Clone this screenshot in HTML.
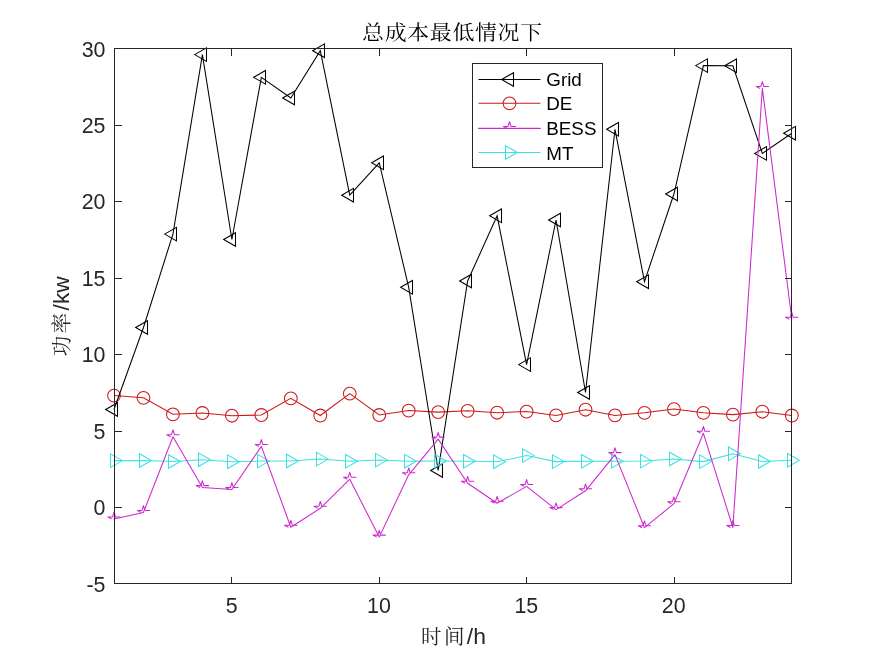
<!DOCTYPE html>
<html><head><meta charset="utf-8"><title>总成本最低情况下</title>
<style>
html,body{margin:0;padding:0;background:#fff;}
body{width:875px;height:656px;overflow:hidden;}
svg{display:block;will-change:transform;}
.tk{font-family:"Liberation Sans",Arial,sans-serif;font-size:21.4px;fill:#262626;}
.lg{font-family:"Liberation Sans",Arial,sans-serif;font-size:18.8px;fill:#000;}
.cj{font-family:"Liberation Sans","Noto Serif CJK SC",serif;font-size:22.9px;}
.c2{font-size:20.5px;letter-spacing:2.4px;}
</style></head><body>
<svg width="875" height="656" viewBox="0 0 875 656">
<rect width="875" height="656" fill="#fff"/>

<g fill="none" stroke="rgb(205,25,25)" stroke-width="1.05" stroke-linejoin="miter" stroke-linecap="butt">
<polyline points="114,395.6 143.47,397.8 172.94,414.3 202.41,413 231.88,415.7 261.35,415 290.82,398.4 320.29,415.5 349.76,393.6 379.23,415 408.7,410.6 438.17,412.1 467.64,410.8 497.11,412.7 526.58,411.6 556.05,415.4 585.52,409.7 614.99,415.4 644.46,412.8 673.93,409.1 703.4,412.8 732.87,414.6 762.34,411.7 791.81,415.5"/>
<circle cx="114" cy="395.6" r="6.4"/>
<circle cx="143.47" cy="397.8" r="6.4"/>
<circle cx="172.94" cy="414.3" r="6.4"/>
<circle cx="202.41" cy="413" r="6.4"/>
<circle cx="231.88" cy="415.7" r="6.4"/>
<circle cx="261.35" cy="415" r="6.4"/>
<circle cx="290.82" cy="398.4" r="6.4"/>
<circle cx="320.29" cy="415.5" r="6.4"/>
<circle cx="349.76" cy="393.6" r="6.4"/>
<circle cx="379.23" cy="415" r="6.4"/>
<circle cx="408.7" cy="410.6" r="6.4"/>
<circle cx="438.17" cy="412.1" r="6.4"/>
<circle cx="467.64" cy="410.8" r="6.4"/>
<circle cx="497.11" cy="412.7" r="6.4"/>
<circle cx="526.58" cy="411.6" r="6.4"/>
<circle cx="556.05" cy="415.4" r="6.4"/>
<circle cx="585.52" cy="409.7" r="6.4"/>
<circle cx="614.99" cy="415.4" r="6.4"/>
<circle cx="644.46" cy="412.8" r="6.4"/>
<circle cx="673.93" cy="409.1" r="6.4"/>
<circle cx="703.4" cy="412.8" r="6.4"/>
<circle cx="732.87" cy="414.6" r="6.4"/>
<circle cx="762.34" cy="411.7" r="6.4"/>
<circle cx="791.81" cy="415.5" r="6.4"/>
</g>
<g fill="none" stroke="#000" stroke-width="1.05" stroke-linejoin="miter" stroke-linecap="butt">
<polyline points="114,409.5 143.47,327.5 172.94,234.1 202.41,54.6 231.88,239.5 261.35,77.3 290.82,98 320.29,50.7 349.76,195.2 379.23,162.8 408.7,287.3 438.17,470.5 467.64,281 497.11,215.8 526.58,364.6 556.05,220 585.52,392.5 614.99,129.3 644.46,281.7 673.93,194 703.4,65.6 732.87,65.8 762.34,153.4 791.81,133.2"/>
<path d="M105.65 409.5L117.5 402.7L117.5 416.3ZM135.65 327.5L147.5 320.7L147.5 334.3ZM164.65 234.1L176.5 227.3L176.5 240.9ZM194.65 54.6L206.5 47.8L206.5 61.4ZM223.65 239.5L235.5 232.7L235.5 246.3ZM253.65 77.3L265.5 70.5L265.5 84.1ZM282.65 98L294.5 91.2L294.5 104.8ZM312.65 50.7L324.5 43.9L324.5 57.5ZM341.65 195.2L353.5 188.4L353.5 202ZM371.65 162.8L383.5 156L383.5 169.6ZM400.65 287.3L412.5 280.5L412.5 294.1ZM430.65 470.5L442.5 463.7L442.5 477.3ZM459.65 281L471.5 274.2L471.5 287.8ZM489.65 215.8L501.5 209L501.5 222.6ZM518.65 364.6L530.5 357.8L530.5 371.4ZM548.65 220L560.5 213.2L560.5 226.8ZM577.65 392.5L589.5 385.7L589.5 399.3ZM606.65 129.3L618.5 122.5L618.5 136.1ZM636.65 281.7L648.5 274.9L648.5 288.5ZM665.65 194L677.5 187.2L677.5 200.8ZM695.65 65.6L707.5 58.8L707.5 72.4ZM724.65 65.8L736.5 59L736.5 72.6ZM754.65 153.4L766.5 146.6L766.5 160.2ZM783.65 133.2L795.5 126.4L795.5 140Z"/>
</g>
<g fill="none" stroke="rgb(60,225,225)" stroke-width="1.05" stroke-linejoin="miter" stroke-linecap="butt">
<polyline points="114,460.6 143.47,460.5 172.94,461.5 202.41,459.7 231.88,461.7 261.35,461.1 290.82,461 320.29,459.1 349.76,461.3 379.23,460.1 408.7,461.2 438.17,461 467.64,461.3 497.11,461.7 526.58,455.6 556.05,461.6 585.52,461.3 614.99,461.3 644.46,461.1 673.93,459 703.4,461.6 732.87,453.8 762.34,461.5 791.81,460.3"/>
<path d="M122.35 460.6L110.5 453.8L110.5 467.4ZM151.35 460.5L139.5 453.7L139.5 467.3ZM180.35 461.5L168.5 454.7L168.5 468.3ZM210.35 459.7L198.5 452.9L198.5 466.5ZM239.35 461.7L227.5 454.9L227.5 468.5ZM269.35 461.1L257.5 454.3L257.5 467.9ZM298.35 461L286.5 454.2L286.5 467.8ZM328.35 459.1L316.5 452.3L316.5 465.9ZM357.35 461.3L345.5 454.5L345.5 468.1ZM387.35 460.1L375.5 453.3L375.5 466.9ZM416.35 461.2L404.5 454.4L404.5 468ZM446.35 461L434.5 454.2L434.5 467.8ZM475.35 461.3L463.5 454.5L463.5 468.1ZM505.35 461.7L493.5 454.9L493.5 468.5ZM534.35 455.6L522.5 448.8L522.5 462.4ZM564.35 461.6L552.5 454.8L552.5 468.4ZM593.35 461.3L581.5 454.5L581.5 468.1ZM623.35 461.3L611.5 454.5L611.5 468.1ZM652.35 461.1L640.5 454.3L640.5 467.9ZM681.35 459L669.5 452.2L669.5 465.8ZM711.35 461.6L699.5 454.8L699.5 468.4ZM740.35 453.8L728.5 447L728.5 460.6ZM770.35 461.5L758.5 454.7L758.5 468.3ZM799.35 460.3L787.5 453.5L787.5 467.1Z"/>
</g>
<g fill="none" stroke="rgb(205,40,205)" stroke-width="1.05" stroke-linejoin="round" stroke-linecap="round">
<polyline points="114,518.9 143.47,512.4 172.94,436.7 202.41,487.6 231.88,489.5 261.35,446.4 290.82,527.2 320.29,508.3 349.76,479.2 379.23,537.1 408.7,474.8 438.17,439.1 467.64,483.3 497.11,503.2 526.58,486.4 556.05,509.6 585.52,490.8 614.99,454.6 644.46,527.7 673.93,503.7 703.4,433.3 732.87,527.5 762.34,88.4 791.81,319.3"/>
<path d="M111.2 518.7L107.8 516.9L112.5 516.9L114 512.1L115.5 516.9L120.2 516.9M140.67 512.2L137.27 510.4L141.97 510.4L143.47 505.6L144.97 510.4L149.67 510.4M170.14 436.5L166.74 434.7L171.44 434.7L172.94 429.9L174.44 434.7L179.14 434.7M199.61 487.4L196.21 485.6L200.91 485.6L202.41 480.8L203.91 485.6L208.61 485.6M229.08 489.3L225.68 487.5L230.38 487.5L231.88 482.7L233.38 487.5L238.08 487.5M258.55 446.2L255.15 444.4L259.85 444.4L261.35 439.6L262.85 444.4L267.55 444.4M288.02 527L284.62 525.2L289.32 525.2L290.82 520.4L292.32 525.2L297.02 525.2M317.49 508.1L314.09 506.3L318.79 506.3L320.29 501.5L321.79 506.3L326.49 506.3M346.96 479L343.56 477.2L348.26 477.2L349.76 472.4L351.26 477.2L355.96 477.2M376.43 536.9L373.03 535.1L377.73 535.1L379.23 530.3L380.73 535.1L385.43 535.1M405.9 474.6L402.5 472.8L407.2 472.8L408.7 468L410.2 472.8L414.9 472.8M435.37 438.9L431.97 437.1L436.67 437.1L438.17 432.3L439.67 437.1L444.37 437.1M464.84 483.1L461.44 481.3L466.14 481.3L467.64 476.5L469.14 481.3L473.84 481.3M494.31 503L490.91 501.2L495.61 501.2L497.11 496.4L498.61 501.2L503.31 501.2M523.78 486.2L520.38 484.4L525.08 484.4L526.58 479.6L528.08 484.4L532.78 484.4M553.25 509.4L549.85 507.6L554.55 507.6L556.05 502.8L557.55 507.6L562.25 507.6M582.72 490.6L579.32 488.8L584.02 488.8L585.52 484L587.02 488.8L591.72 488.8M612.19 454.4L608.79 452.6L613.49 452.6L614.99 447.8L616.49 452.6L621.19 452.6M641.66 527.5L638.26 525.7L642.96 525.7L644.46 520.9L645.96 525.7L650.66 525.7M671.13 503.5L667.73 501.7L672.43 501.7L673.93 496.9L675.43 501.7L680.13 501.7M700.6 433.1L697.2 431.3L701.9 431.3L703.4 426.5L704.9 431.3L709.6 431.3M730.07 527.3L726.67 525.5L731.37 525.5L732.87 520.7L734.37 525.5L739.07 525.5M759.54 88.2L756.14 86.4L760.84 86.4L762.34 81.6L763.84 86.4L768.54 86.4M789.01 319.1L785.61 317.3L790.31 317.3L791.81 312.5L793.31 317.3L798.01 317.3"/>
</g>
<g fill="none" stroke="#262626" stroke-width="1.05" shape-rendering="crispEdges">
<rect x="114.5" y="48.5" width="677.0" height="535.0"/>
<path d="M231.5 583.5v-7M231.5 48.5v7M379.5 583.5v-7M379.5 48.5v7M526.5 583.5v-7M526.5 48.5v7M674.5 583.5v-7M674.5 48.5v7M114.5 583.5h7M791.5 583.5h-7M114.5 507.5h7M791.5 507.5h-7M114.5 431.5h7M791.5 431.5h-7M114.5 354.5h7M791.5 354.5h-7M114.5 278.5h7M791.5 278.5h-7M114.5 201.5h7M791.5 201.5h-7M114.5 125.5h7M791.5 125.5h-7M114.5 48.5h7M791.5 48.5h-7"/>
</g>
<text class="tk" transform="translate(231.58 612.6) scale(1 1.04)" text-anchor="middle">5</text>
<text class="tk" transform="translate(378.93 612.6) scale(1 1.04)" text-anchor="middle">10</text>
<text class="tk" transform="translate(526.28 612.6) scale(1 1.04)" text-anchor="middle">15</text>
<text class="tk" transform="translate(673.63 612.6) scale(1 1.04)" text-anchor="middle">20</text>
<text class="tk" transform="translate(105.5 591.61) scale(1 1.04)" text-anchor="end">-5</text>
<text class="tk" transform="translate(105.5 515.18) scale(1 1.04)" text-anchor="end">0</text>
<text class="tk" transform="translate(105.5 438.75) scale(1 1.04)" text-anchor="end">5</text>
<text class="tk" transform="translate(105.5 362.32) scale(1 1.04)" text-anchor="end">10</text>
<text class="tk" transform="translate(105.5 285.89) scale(1 1.04)" text-anchor="end">15</text>
<text class="tk" transform="translate(105.5 209.46) scale(1 1.04)" text-anchor="end">20</text>
<text class="tk" transform="translate(105.5 133.03) scale(1 1.04)" text-anchor="end">25</text>
<text class="tk" transform="translate(105.5 56.6) scale(1 1.04)" text-anchor="end">30</text>
<text class="cj" transform="translate(452.4 39.5) scale(1.07 1)" text-anchor="middle" fill="#000"><tspan style="font-size:20.5px;letter-spacing:0.62px">总成本最低情况下</tspan></text>
<text class="cj" x="453.5" y="644.3" text-anchor="middle" fill="#262626"><tspan class="c2">时间</tspan>/h</text>
<text class="cj" transform="translate(68.5 316.2) rotate(-90)" x="0" y="0" text-anchor="middle" fill="#262626"><tspan class="c2">功率</tspan>/kw</text>
<rect x="472.5" y="63.5" width="130.0" height="104.0" fill="#fff" stroke="#262626" stroke-width="1.05" shape-rendering="crispEdges"/>
<g fill="none" stroke="#000" stroke-width="1.05" stroke-linejoin="miter" stroke-linecap="butt"><path d="M478.5 79.5H540.4"/><path d="M501.65 79.5L513.5 72.7L513.5 86.3Z"/></g>
<text class="lg" x="546.3" y="85.8">Grid</text>
<g fill="none" stroke="rgb(205,25,25)" stroke-width="1.05" stroke-linejoin="miter" stroke-linecap="butt"><path d="M478.5 103.3H540.4"/><circle cx="509.5" cy="103.3" r="6.4"/></g>
<text class="lg" x="546.3" y="110.4">DE</text>
<g fill="none" stroke="rgb(205,40,205)" stroke-width="1.05" stroke-linejoin="round" stroke-linecap="round"><path d="M478.5 128.4H540.4"/><path d="M506.7 128.2L503.3 126.4L508 126.4L509.5 121.6L511 126.4L515.7 126.4"/></g>
<text class="lg" x="546.3" y="134.8">BESS</text>
<g fill="none" stroke="rgb(60,225,225)" stroke-width="1.05" stroke-linejoin="miter" stroke-linecap="butt"><path d="M478.5 152.5H540.4"/><path d="M517.35 152.5L505.5 145.7L505.5 159.3Z"/></g>
<text class="lg" x="546.3" y="159.5">MT</text>
</svg>
</body></html>
